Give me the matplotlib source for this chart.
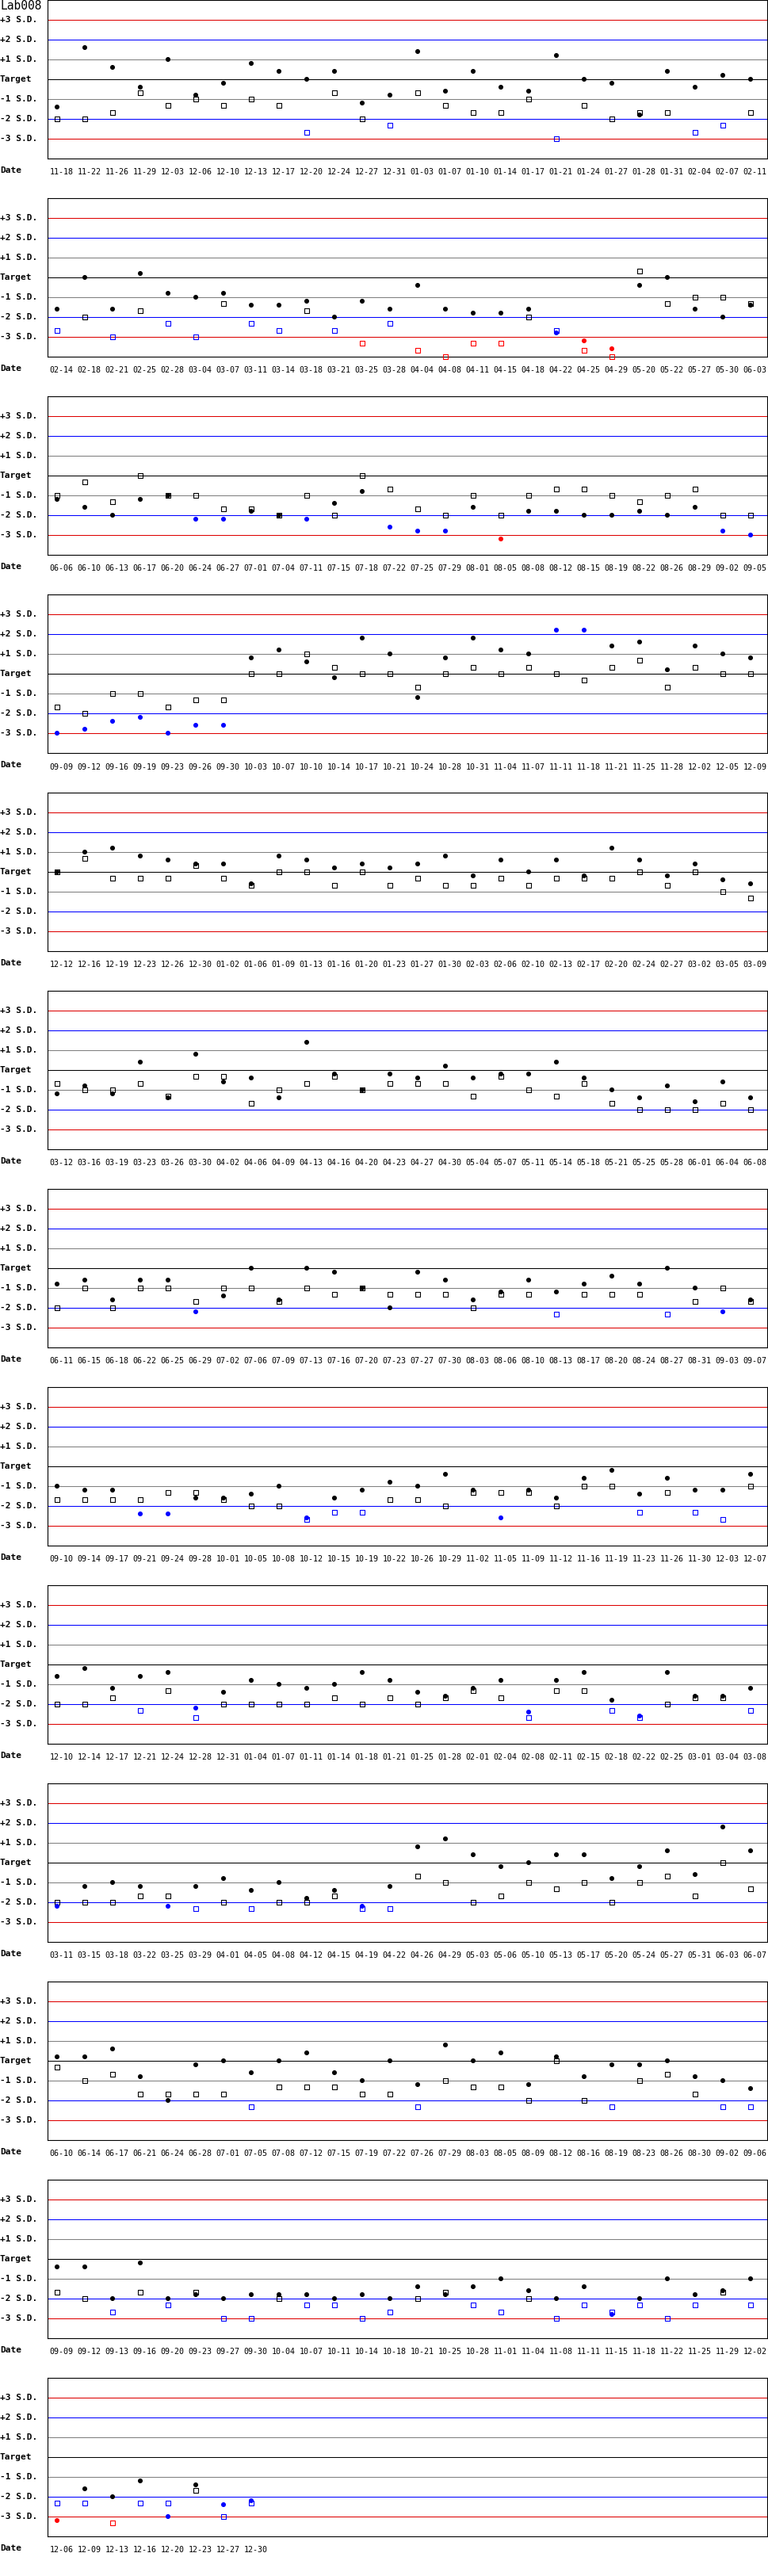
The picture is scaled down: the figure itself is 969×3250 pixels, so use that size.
import numpy as np
import matplotlib
matplotlib.use("Agg")
import matplotlib.pyplot as plt
from matplotlib.transforms import blended_transform_factory

# ---- data (values in S.D. units from target) ----
d1 = ['11-18','11-22','11-26','11-29','12-03','12-06','12-10','12-13','12-17','12-20','12-24','12-27','12-31',
      '01-03','01-07','01-10','01-14','01-17','01-21','01-24','01-27','01-28','01-31','02-04','02-07','02-11']
c1 = [-1.4,1.6,0.6,-0.4,1.0,-0.8,-0.2,0.8,0.4,0.0,0.4,-1.2,-0.8,1.4,-0.6,0.4,-0.4,-0.6,1.2,0.0,-0.2,-1.8,0.4,-0.4,0.2,0.0]
s1 = [-2.0,-2.0,-1.67,-0.67,-1.33,-1.0,-1.33,-1.0,-1.33,-2.67,-0.67,-2.0,-2.33,-0.67,-1.33,-1.67,-1.67,-1.0,-3.0,-1.33,-2.0,-1.67,-1.67,-2.67,-2.33,-1.67]

d2 = ['02-14','02-18','02-21','02-25','02-28','03-04','03-07','03-11','03-14','03-18','03-21','03-25','03-28',
      '04-04','04-08','04-11','04-15','04-18','04-22','04-25','04-29','05-20','05-22','05-27','05-30','06-03']
c2 = [-1.6,0.0,-1.6,0.2,-0.8,-1.0,-0.8,-1.4,-1.4,-1.2,-2.0,-1.2,-1.6,-0.4,-1.6,-1.8,-1.8,-1.6,-2.8,-3.2,-3.6,-0.4,0.0,-1.6,-2.0,-1.4]
s2 = [-2.67,-2.0,-3.0,-1.67,-2.33,-3.0,-1.33,-2.33,-2.67,-1.67,-2.67,-3.33,-2.33,-3.67,-4.0,-3.33,-3.33,-2.0,-2.67,-3.67,-4.0,0.33,-1.33,-1.0,-1.0,-1.33]

d3 = ['06-06','06-10','06-13','06-17','06-20','06-24','06-27','07-01','07-04','07-11','07-15','07-18','07-22',
      '07-25','07-29','08-01','08-05','08-08','08-12','08-15','08-19','08-22','08-26','08-29','09-02','09-05']
c3 = [-1.2,-1.6,-2.0,-1.2,-1.0,-2.2,-2.2,-1.8,-2.0,-2.2,-1.4,-0.8,-2.6,-2.8,-2.8,-1.6,-3.2,-1.8,-1.8,-2.0,-2.0,-1.8,-2.0,-1.6,-2.8,-3.0]
s3 = [-1.0,-0.33,-1.33,0.0,-1.0,-1.0,-1.67,-1.67,-2.0,-1.0,-2.0,0.0,-0.67,-1.67,-2.0,-1.0,-2.0,-1.0,-0.67,-0.67,-1.0,-1.33,-1.0,-0.67,-2.0,-2.0]

d4 = ['09-09','09-12','09-16','09-19','09-23','09-26','09-30','10-03','10-07','10-10','10-14','10-17','10-21',
      '10-24','10-28','10-31','11-04','11-07','11-11','11-18','11-21','11-25','11-28','12-02','12-05','12-09']
c4 = [-3.0,-2.8,-2.4,-2.2,-3.0,-2.6,-2.6,0.8,1.2,0.6,-0.2,1.8,1.0,-1.2,0.8,1.8,1.2,1.0,2.2,2.2,1.4,1.6,0.2,1.4,1.0,0.8]
s4 = [-1.67,-2.0,-1.0,-1.0,-1.67,-1.33,-1.33,0.0,0.0,1.0,0.33,0.0,0.0,-0.67,0.0,0.33,0.0,0.33,0.0,-0.33,0.33,0.67,-0.67,0.33,0.0,0.0]

d5 = ['12-12','12-16','12-19','12-23','12-26','12-30','01-02','01-06','01-09','01-13','01-16','01-20','01-23',
      '01-27','01-30','02-03','02-06','02-10','02-13','02-17','02-20','02-24','02-27','03-02','03-05','03-09']
c5 = [0.0,1.0,1.2,0.8,0.6,0.4,0.4,-0.6,0.8,0.6,0.2,0.4,0.2,0.4,0.8,-0.2,0.6,0.0,0.6,-0.2,1.2,0.6,-0.2,0.4,-0.4,-0.6]
s5 = [0.0,0.67,-0.33,-0.33,-0.33,0.33,-0.33,-0.67,0.0,0.0,-0.67,0.0,-0.67,-0.33,-0.67,-0.67,-0.33,-0.67,-0.33,-0.33,-0.33,0.0,-0.67,0.0,-1.0,-1.33]

d6 = ['03-12','03-16','03-19','03-23','03-26','03-30','04-02','04-06','04-09','04-13','04-16','04-20','04-23',
      '04-27','04-30','05-04','05-07','05-11','05-14','05-18','05-21','05-25','05-28','06-01','06-04','06-08']
c6 = [-1.2,-0.8,-1.2,0.4,-1.4,0.8,-0.6,-0.4,-1.4,1.4,-0.2,-1.0,-0.2,-0.4,0.2,-0.4,-0.2,-0.2,0.4,-0.4,-1.0,-1.4,-0.8,-1.6,-0.6,-1.4]
s6 = [-0.67,-1.0,-1.0,-0.67,-1.33,-0.33,-0.33,-1.67,-1.0,-0.67,-0.33,-1.0,-0.67,-0.67,-0.67,-1.33,-0.33,-1.0,-1.33,-0.67,-1.67,-2.0,-2.0,-2.0,-1.67,-2.0]

d7 = ['06-11','06-15','06-18','06-22','06-25','06-29','07-02','07-06','07-09','07-13','07-16','07-20','07-23',
      '07-27','07-30','08-03','08-06','08-10','08-13','08-17','08-20','08-24','08-27','08-31','09-03','09-07']
c7 = [-0.8,-0.6,-1.6,-0.6,-0.6,-2.2,-1.4,0.0,-1.6,0.0,-0.2,-1.0,-2.0,-0.2,-0.6,-1.6,-1.2,-0.6,-1.2,-0.8,-0.4,-0.8,0.0,-1.0,-2.2,-1.6]
s7 = [-2.0,-1.0,-2.0,-1.0,-1.0,-1.67,-1.0,-1.0,-1.67,-1.0,-1.33,-1.0,-1.33,-1.33,-1.33,-2.0,-1.33,-1.33,-2.33,-1.33,-1.33,-1.33,-2.33,-1.67,-1.0,-1.67]

d8 = ['09-10','09-14','09-17','09-21','09-24','09-28','10-01','10-05','10-08','10-12','10-15','10-19','10-22',
      '10-26','10-29','11-02','11-05','11-09','11-12','11-16','11-19','11-23','11-26','11-30','12-03','12-07']
c8 = [-1.0,-1.2,-1.2,-2.4,-2.4,-1.6,-1.6,-1.4,-1.0,-2.6,-1.6,-1.2,-0.8,-1.0,-0.4,-1.2,-2.6,-1.2,-1.6,-0.6,-0.2,-1.4,-0.6,-1.2,-1.2,-0.4]
s8 = [-1.67,-1.67,-1.67,-1.67,-1.33,-1.33,-1.67,-2.0,-2.0,-2.67,-2.33,-2.33,-1.67,-1.67,-2.0,-1.33,-1.33,-1.33,-2.0,-1.0,-1.0,-2.33,-1.33,-2.33,-2.67,-1.0]

d9 = ['12-10','12-14','12-17','12-21','12-24','12-28','12-31','01-04','01-07','01-11','01-14','01-18','01-21',
      '01-25','01-28','02-01','02-04','02-08','02-11','02-15','02-18','02-22','02-25','03-01','03-04','03-08']
c9 = [-0.6,-0.2,-1.2,-0.6,-0.4,-2.2,-1.4,-0.8,-1.0,-1.2,-1.0,-0.4,-0.8,-1.4,-1.6,-1.2,-0.8,-2.4,-0.8,-0.4,-1.8,-2.6,-0.4,-1.6,-1.6,-1.2]
s9 = [-2.0,-2.0,-1.67,-2.33,-1.33,-2.67,-2.0,-2.0,-2.0,-2.0,-1.67,-2.0,-1.67,-2.0,-1.67,-1.33,-1.67,-2.67,-1.33,-1.33,-2.33,-2.67,-2.0,-1.67,-1.67,-2.33]

d10 = ['03-11','03-15','03-18','03-22','03-25','03-29','04-01','04-05','04-08','04-12','04-15','04-19','04-22',
       '04-26','04-29','05-03','05-06','05-10','05-13','05-17','05-20','05-24','05-27','05-31','06-03','06-07']
c10 = [-2.2,-1.2,-1.0,-1.2,-2.2,-1.2,-0.8,-1.4,-1.0,-1.8,-1.4,-2.2,-1.2,0.8,1.2,0.4,-0.2,0.0,0.4,0.4,-0.8,-0.2,0.6,-0.6,1.8,0.6]
s10 = [-2.0,-2.0,-2.0,-1.67,-1.67,-2.33,-2.0,-2.33,-2.0,-2.0,-1.67,-2.33,-2.33,-0.67,-1.0,-2.0,-1.67,-1.0,-1.33,-1.0,-2.0,-1.0,-0.67,-1.67,0.0,-1.33]

d11 = ['06-10','06-14','06-17','06-21','06-24','06-28','07-01','07-05','07-08','07-12','07-15','07-19','07-22',
       '07-26','07-29','08-03','08-05','08-09','08-12','08-16','08-19','08-23','08-26','08-30','09-02','09-06']
c11 = [0.2,0.2,0.6,-0.8,-2.0,-0.2,0.0,-0.6,0.0,0.4,-0.6,-1.0,0.0,-1.2,0.8,0.0,0.4,-1.2,0.2,-0.8,-0.2,-0.2,0.0,-0.8,-1.0,-1.4]
s11 = [-0.33,-1.0,-0.67,-1.67,-1.67,-1.67,-1.67,-2.33,-1.33,-1.33,-1.33,-1.67,-1.67,-2.33,-1.0,-1.33,-1.33,-2.0,0.0,-2.0,-2.33,-1.0,-0.67,-1.67,-2.33,-2.33]

d12 = ['09-09','09-12','09-13','09-16','09-20','09-23','09-27','09-30','10-04','10-07','10-11','10-14','10-18',
       '10-21','10-25','10-28','11-01','11-04','11-08','11-11','11-15','11-18','11-22','11-25','11-29','12-02']
c12 = [-0.4,-0.4,-2.0,-0.2,-2.0,-1.8,-2.0,-1.8,-1.8,-1.8,-2.0,-1.8,-2.0,-1.4,-1.8,-1.4,-1.0,-1.6,-2.0,-1.4,-2.8,-2.0,-1.0,-1.8,-1.6,-1.0]
s12 = [-1.67,-2.0,-2.67,-1.67,-2.33,-1.67,-3.0,-3.0,-2.0,-2.33,-2.33,-3.0,-2.67,-2.0,-1.67,-2.33,-2.67,-2.0,-3.0,-2.33,-2.67,-2.33,-3.0,-2.33,-1.67,-2.33]

d13 = ['12-06','12-09','12-13','12-16','12-20','12-23','12-27','12-30']
c13 = [-3.2,-1.6,-2.0,-1.2,-3.0,-1.4,-2.4,-2.2]
s13 = [-2.33,-2.33,-3.33,-2.33,-2.33,-1.67,-3.0,-2.33]

panels = [(d1, c1, s1), (d2, c2, s2), (d3, c3, s3), (d4, c4, s4), (d5, c5, s5),
          (d6, c6, s6), (d7, c7, s7), (d8, c8, s8), (d9, c9, s9), (d10, c10, s10),
          (d11, c11, s11), (d12, c12, s12), (d13, c13, s13)]

sd_levels = [3, 2, 1, 0, -1, -2, -3]
sd_labels = ['+3 S.D.', '+2 S.D.', '+1 S.D.', 'Target', '-1 S.D.', '-2 S.D.', '-3 S.D.']
line_cols = {3: '#dd0000', 2: '#0000ff', 1: '#808080', 0: '#000000'}


def point_colors(vals):
    out = []
    for v in vals:
        if abs(v) > 3.01:
            out.append('#ff0000')
        elif abs(v) > 2.01:
            out.append('#0000ff')
        else:
            out.append('#000000')
    return out


W, H = 970, 3250
fig = plt.figure(figsize=(W / 100, H / 100), dpi=100)
mono = 'DejaVu Sans Mono'

fig.text(0, 1 - 8 / H, 'Lab008', family=mono, fontsize=10.5, va='center', ha='left')

for k, (dates, circ, sq) in enumerate(panels):
    top = 250 * k
    ax = fig.add_axes([60 / W, 1 - (top + 200) / H, 908 / W, 200 / H])
    ax.set_xlim(-12 / 35, -12 / 35 + 908 / 35)
    ax.set_ylim(-4, 4)

    for lv in sd_levels:
        ax.axhline(lv, color=line_cols[abs(lv)], lw=0.75, zorder=1)

    x = np.arange(len(dates))
    ax.scatter(x, sq, marker='s', s=17, facecolors='none',
               edgecolors=point_colors(sq), linewidths=0.8, zorder=3, clip_on=False)
    ax.scatter(x, circ, marker='o', s=19, c=point_colors(circ),
               linewidths=0, zorder=4, clip_on=False)

    ax.set_xticks(x + 0.16)
    ax.set_xticklabels(dates, family=mono, fontsize=7.2)
    ax.tick_params(axis='x', length=0, pad=9)
    ax.set_yticks([])
    for sp in ax.spines.values():
        sp.set_linewidth(0.8)
        sp.set_color('black')

    tr = blended_transform_factory(fig.transFigure, ax.transData)
    for lv, lab in zip(sd_levels, sd_labels):
        ax.text(0, lv, lab, transform=tr, family=mono, fontweight='bold',
                fontsize=8, va='center', ha='left')
    fig.text(0, 1 - (top + 215) / H, 'Date', family=mono, fontweight='bold',
             fontsize=8, va='center', ha='left')

fig.savefig('out.png', dpi=100, facecolor='white')
